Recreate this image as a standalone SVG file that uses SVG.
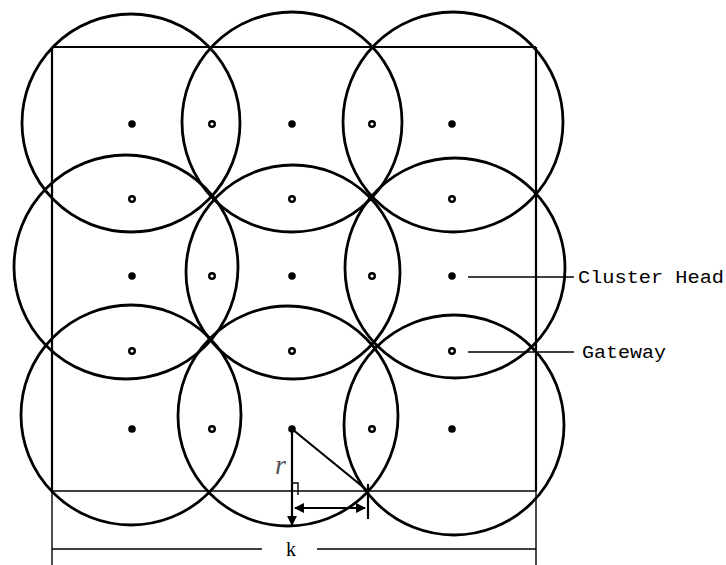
<svg xmlns="http://www.w3.org/2000/svg" width="726" height="565" viewBox="0 0 726 565">
<style>
.c{fill:none;stroke:#000;stroke-width:2.8}
.sq{fill:none;stroke:#000;stroke-width:2.2}
.thin{fill:none;stroke:#000;stroke-width:1.4}
.ch{fill:#000}
.gw{fill:#fff;stroke:#000;stroke-width:2.4}
.lbl{font-family:"Liberation Mono",monospace;font-size:19px;fill:#000}
</style>
<defs>
<marker id="ah" viewBox="0 0 10 10" refX="9" refY="5" markerWidth="4.5" markerHeight="4.5" orient="auto-start-reverse" markerUnits="strokeWidth">
<path d="M0,0 L10,5 L0,10 z" fill="#000"/>
</marker>
</defs>
<rect width="726" height="565" fill="#fff"/>
<g id="region">
<line class="sq" x1="52" y1="47" x2="536" y2="47"/>
<line class="sq" x1="52" y1="47" x2="52" y2="491"/>
<line class="sq" x1="536" y1="47" x2="536" y2="491"/>
<line class="thin" x1="52" y1="491" x2="536" y2="491"/>
<line class="thin" x1="52" y1="491" x2="52" y2="565"/>
<line class="thin" x1="536" y1="491" x2="536" y2="565"/>
</g>
<g id="circles">
<circle class="c" cx="131" cy="123" r="109"/>
<circle class="c" cx="292" cy="122" r="110"/>
<circle class="c" cx="453" cy="122" r="110"/>
<circle class="c" cx="126" cy="267" r="112"/>
<circle class="c" cx="293" cy="272" r="107"/>
<circle class="c" cx="455" cy="268" r="110"/>
<circle class="c" cx="131" cy="415" r="110"/>
<circle class="c" cx="288" cy="416" r="110"/>
<circle class="c" cx="454" cy="425" r="110"/>
</g>
<g id="cluster-heads">
<circle class="ch" cx="132" cy="124" r="3.8"/>
<circle class="ch" cx="292" cy="124" r="3.8"/>
<circle class="ch" cx="452" cy="124" r="3.8"/>
<circle class="ch" cx="132" cy="276" r="3.8"/>
<circle class="ch" cx="292" cy="276" r="3.8"/>
<circle class="ch" cx="452" cy="276" r="3.8"/>
<circle class="ch" cx="132" cy="429" r="3.8"/>
<circle class="ch" cx="292" cy="429" r="3.8"/>
<circle class="ch" cx="452" cy="429" r="3.8"/>
</g>
<g id="gateways">
<circle class="gw" cx="212" cy="124" r="2.8"/>
<circle class="gw" cx="372" cy="124" r="2.8"/>
<circle class="gw" cx="132" cy="199" r="2.8"/>
<circle class="gw" cx="292" cy="199" r="2.8"/>
<circle class="gw" cx="452" cy="199" r="2.8"/>
<circle class="gw" cx="212" cy="276" r="2.8"/>
<circle class="gw" cx="372" cy="276" r="2.8"/>
<circle class="gw" cx="132" cy="351" r="2.8"/>
<circle class="gw" cx="292" cy="351" r="2.8"/>
<circle class="gw" cx="452" cy="351" r="2.8"/>
<circle class="gw" cx="212" cy="429" r="2.8"/>
<circle class="gw" cx="372" cy="429" r="2.8"/>
</g>
<g id="connectors">
<line class="thin" x1="468" y1="277" x2="574" y2="277"/>
<line class="thin" x1="468" y1="352" x2="574" y2="352"/>
<line x1="292" y1="429" x2="292" y2="525" stroke="#000" stroke-width="2.2" marker-end="url(#ah)"/>
<line x1="292" y1="429" x2="368" y2="491" stroke="#000" stroke-width="2.2"/>
<line x1="295" y1="508" x2="365" y2="508" stroke="#000" stroke-width="2.2" marker-start="url(#ah)" marker-end="url(#ah)"/>
<line x1="368" y1="484" x2="368" y2="519" stroke="#000" stroke-width="2.2"/>
<polyline points="292,483 298,483 298,495" fill="none" stroke="#000" stroke-width="1.4"/>
<line class="thin" x1="52" y1="549" x2="262" y2="549"/>
<line class="thin" x1="317" y1="549" x2="536" y2="549"/>
</g>
<g id="labels">
<text class="lbl" x="578" y="283" textLength="146" lengthAdjust="spacingAndGlyphs">Cluster Head</text>
<text class="lbl" x="582" y="358" textLength="84" lengthAdjust="spacingAndGlyphs">Gateway</text>
<text x="275" y="474" font-family="Liberation Serif,serif" font-style="italic" font-size="28" fill="#555">r</text>
<text x="286" y="556" font-family="Liberation Serif,serif" font-size="20" fill="#000">k</text>
</g>
</svg>
